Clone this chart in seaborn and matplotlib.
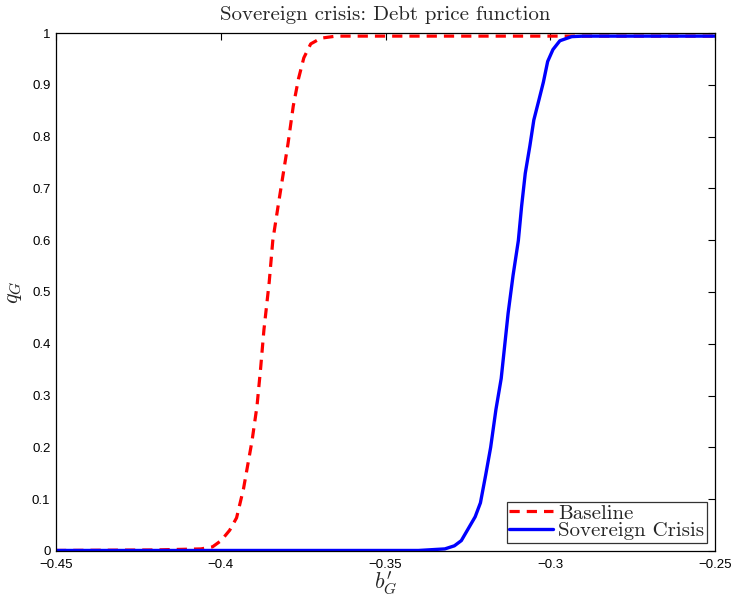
import numpy as np
import pandas as pd
import matplotlib
matplotlib.use("Agg")
import matplotlib.pyplot as plt
import seaborn as sns

# Debt price schedules q_G(b'_G)
baseline_b = [-0.45, -0.42, -0.406, -0.4025, -0.3999, -0.3973, -0.3952, -0.3931,
              -0.3905, -0.389, -0.3879, -0.3869, -0.3853, -0.3842, -0.3826, -0.3811,
              -0.3796, -0.378, -0.3764, -0.3748, -0.3727, -0.3696, -0.365, -0.33,
              -0.30, -0.25]
baseline_q = [0.001, 0.002, 0.004, 0.008, 0.02, 0.04, 0.064, 0.12,
              0.213, 0.28, 0.353, 0.427, 0.519, 0.60, 0.666, 0.726,
              0.786, 0.859, 0.912, 0.952, 0.979, 0.990, 0.994, 0.994,
              0.994, 0.994]

crisis_b = [-0.45, -0.40, -0.34, -0.332, -0.3291, -0.3270, -0.3249, -0.3228,
            -0.3212, -0.3196, -0.3181, -0.3165, -0.3149, -0.3139, -0.3128,
            -0.3113, -0.3097, -0.3087, -0.3076, -0.3062, -0.305, -0.3034,
            -0.3021, -0.3008, -0.2992, -0.2971, -0.2935, -0.29, -0.25]
crisis_q = [0.001, 0.001, 0.001, 0.004, 0.01, 0.02, 0.043, 0.066,
            0.093, 0.147, 0.20, 0.273, 0.333, 0.393, 0.459,
            0.532, 0.599, 0.666, 0.729, 0.782, 0.832, 0.872,
            0.905, 0.945, 0.968, 0.985, 0.993, 0.994, 0.994]

x_ticks = [-0.45, -0.40, -0.35, -0.30, -0.25]
x_tick_labels = ["\u22120.45", "\u22120.4", "\u22120.35", "\u22120.3", "\u22120.25"]
y_ticks = [0, 0.1, 0.2, 0.3, 0.4, 0.5, 0.6, 0.7, 0.8, 0.9, 1.0]
y_tick_labels = ["0", "0.1", "0.2", "0.3", "0.4", "0.5", "0.6", "0.7", "0.8", "0.9", "1"]

sns.set_style("white")
plt.rcParams["font.family"] = ["Liberation Sans", "DejaVu Sans"]
plt.rcParams["mathtext.fontset"] = "cm"

fig = plt.figure(figsize=(7.31, 6.0), dpi=100)
ax = fig.add_axes([0.0766, 0.0817, 0.9016, 0.8633])

base_df = pd.DataFrame({"b": baseline_b, "q": baseline_q})
crisis_df = pd.DataFrame({"b": crisis_b, "q": crisis_q})

sns.lineplot(data=base_df, x="b", y="q", ax=ax, color="#ff0000",
             linestyle=(0, (3.2, 2.2)), linewidth=2.3, label="Baseline", sort=False)
sns.lineplot(data=crisis_df, x="b", y="q", ax=ax, color="#0000ff",
             linewidth=2.4, label="Sovereign Crisis", sort=False)

ax.set_xlim(-0.45, -0.25)
ax.set_ylim(0, 1)
ax.set_xticks(x_ticks)
ax.set_xticklabels(x_tick_labels)
ax.set_yticks(y_ticks)
ax.set_yticklabels(y_tick_labels)
ax.tick_params(direction="in", length=5, width=0.8, top=True, right=True,
               labelsize=9.5, colors="black", pad=4)
ax.tick_params(axis="x", pad=5.5)
for s in ax.spines.values():
    s.set_color("black")
    s.set_linewidth(0.9)

ax.set_title("Sovereign crisis: Debt price function", fontfamily="cmr10",
             fontsize=15, pad=9)
ax.set_xlabel(r"$b_G^{\prime}$", fontsize=16, labelpad=-1)
ax.set_ylabel(r"$q_G$", fontsize=16, labelpad=6)

leg = ax.legend(loc="lower right", frameon=True, fancybox=False, edgecolor="black",
                borderpad=0.12, borderaxespad=0.4, handlelength=2.1,
                handletextpad=0.25, labelspacing=-0.05,
                prop={"family": "cmr10", "size": 15})
leg.get_frame().set_linewidth(0.9)

fig.savefig("out.png", dpi=100, facecolor="white")
